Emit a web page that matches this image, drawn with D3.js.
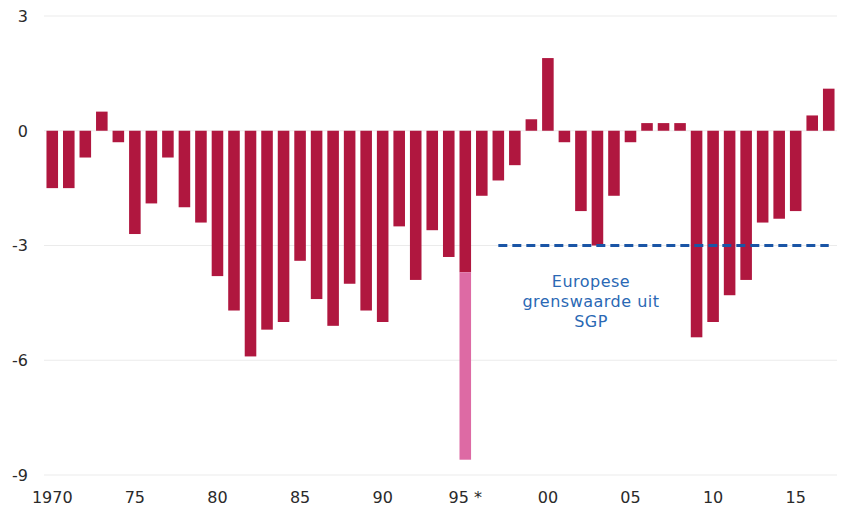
<!DOCTYPE html>
<html>
<head>
<meta charset="utf-8">
<script src="https://cdn.jsdelivr.net/npm/d3@7"></script>
<style>
  html, body { margin: 0; padding: 0; background: #fff; }
  svg { display: block; font-family: "DejaVu Sans", Verdana, sans-serif; }
</style>
</head>
<body>
<svg id="chart" width="843" height="506"></svg>
<script>
// Data
const years = d3.range(1970, 2018);
const balance = [
  -1.5, -1.5, -0.7, 0.5, -0.3, -2.7, -1.9, -0.7, -2.0, -2.4,
  -3.8, -4.7, -5.9, -5.2, -5.0, -3.4, -4.4, -5.1, -4.0, -4.7,
  -5.0, -2.5, -3.9, -2.6, -3.3, -3.7, -1.7, -1.3, -0.9, 0.3,
  1.9, -0.3, -2.1, -3.0, -1.7, -0.3, 0.2, 0.2, 0.2, -5.4,
  -5.0, -4.3, -3.9, -2.4, -2.3, -2.1, 0.4, 1.1
];
// one-off extra in 1995 (marked with *)
const extraYears = [1995];
const extraValues = [-4.9];
const yTicks = [3, 0, -3, -6, -9];
const xTickYears = [1970, 1975, 1980, 1985, 1990, 1995, 2000, 2005, 2010, 2015];
const xTickLabels = ["1970", "75", "80", "85", "90", "95 *", "00", "05", "10", "15"];
const limitValue = -3;
const limitYears = [1997, 2017];
const limitText = ["Europese", "grenswaarde uit", "SGP"];

const svg = d3.select("#chart");
const mLeft = 44, mRight = 837, mTop = 16, mBottom = 475;

const x = d3.scaleBand().domain(years).range([mLeft, mRight]).paddingInner(0.3).paddingOuter(0.15);
const y = d3.scaleLinear().domain([-9, 3]).range([mBottom, mTop]);

// gridlines
svg.append("g").selectAll("line").data(yTicks).join("line")
  .attr("x1", mLeft).attr("x2", mRight)
  .attr("y1", d => y(d)).attr("y2", d => y(d))
  .attr("stroke", "#ebebeb").attr("stroke-width", 1);

// y labels
svg.append("g").selectAll("text").data(yTicks).join("text")
  .attr("x", 28).attr("y", d => y(d)).attr("dy", "0.36em")
  .attr("text-anchor", "end")
  .attr("font-size", 16).attr("fill", "#2a2a2a")
  .text(d => d);

// x labels
svg.append("g").selectAll("text").data(xTickYears).join("text")
  .attr("x", d => x(d) + x.bandwidth() / 2).attr("y", 497).attr("dy", "0.36em")
  .attr("text-anchor", "middle")
  .attr("font-size", 16).attr("fill", "#2a2a2a")
  .text((d, i) => xTickLabels[i]);

// bars
const data = years.map((yr, i) => ({ yr, v: balance[i] }));
svg.append("g").selectAll("rect").data(data).join("rect")
  .attr("x", d => x(d.yr)).attr("width", x.bandwidth())
  .attr("y", d => y(Math.max(0, d.v)))
  .attr("height", d => Math.abs(y(d.v) - y(0)))
  .attr("fill", "#b0173f");

// extra (pink) stacked part
const extra = extraYears.map((yr, i) => ({ yr, base: balance[years.indexOf(yr)], v: extraValues[i] }));
svg.append("g").selectAll("rect").data(extra).join("rect")
  .attr("x", d => x(d.yr)).attr("width", x.bandwidth())
  .attr("y", d => y(d.base))
  .attr("height", d => y(d.base + d.v) - y(d.base))
  .attr("fill", "#dd6aa4");

// limit line
svg.append("line")
  .attr("x1", x(limitYears[0]) + x.bandwidth() / 2)
  .attr("x2", x(limitYears[1]) + x.bandwidth() / 2)
  .attr("y1", y(limitValue)).attr("y2", y(limitValue))
  .attr("stroke", "#1a55a6").attr("stroke-width", 3)
  .attr("stroke-dasharray", "9,5");

const tx = 591;
svg.append("text")
  .attr("x", tx).attr("y", 286.5).attr("text-anchor", "middle")
  .attr("font-size", 16).attr("letter-spacing", 0.5).attr("fill", "#2a68b4")
  .selectAll("tspan").data(limitText).join("tspan")
  .attr("x", tx).attr("dy", (d, i) => i === 0 ? 0 : 20)
  .text(d => d);
</script>
</body>
</html>
